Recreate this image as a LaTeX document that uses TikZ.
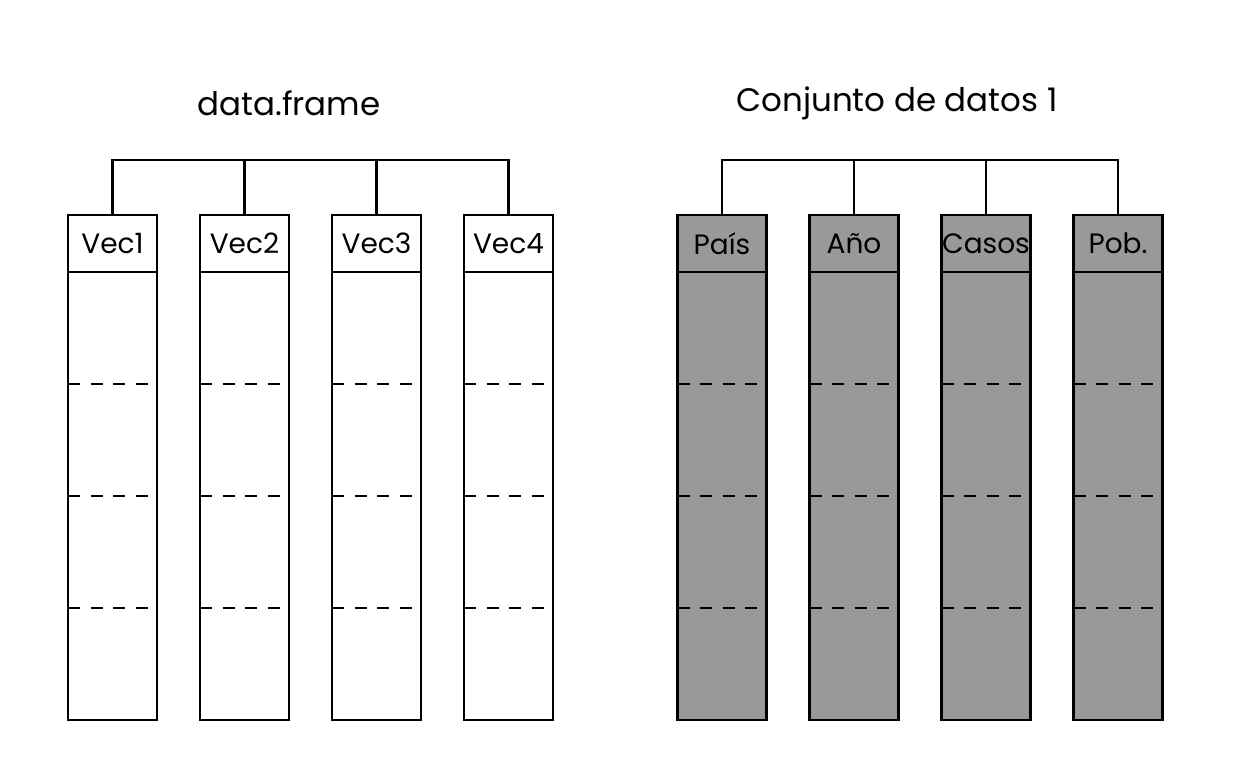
\documentclass[tikz,border=0pt]{standalone}
\usepackage{fontspec}
\setmainfont{Poppins}
\usetikzlibrary{calc}

\definecolor{colgray}{RGB}{153,153,153}

\tikzset{
  colhead/.style={draw, line width=2.8pt, minimum width=89pt, minimum height=57pt,
                  inner sep=0pt, outer sep=0pt, font=\fontsize{28}{28}\selectfont},
  colbody/.style={draw, line width=2.8pt, minimum width=89pt, minimum height=448pt,
                  inner sep=0pt, outer sep=0pt},
  rowsep/.style={line width=2.8pt, dash pattern=on 12pt off 10.5pt},
  bracket/.style={line width=2.8pt},
  grouptitle/.style={font=\fontsize{32.5}{32.5}\selectfont},
}

\begin{document}
\begin{tikzpicture}[x=1pt,y=-1pt]
  \useasboundingbox (0,0) rectangle (1248,768);

  % titles
  \node[grouptitle] (dftitle)  at (289,103) {data.frame};
  \node[grouptitle] (settitle) at (897,103) {Conjunto de datos 1};

  % columns
  \foreach \name/\x/\lab/\colfill in {a/112.5/Vec1/white,  b/244.5/Vec2/white,
                                      c/376.5/Vec3/white,  d/508.5/Vec4/white,
                                      e/722/País/colgray,  f/854/Año/colgray,
                                      g/986/Casos/colgray, h/1118/Pob./colgray}{
    \node[colhead, fill=\colfill] (\name head) at (\x,243.5) {\lab};
    \node[colbody, fill=\colfill, anchor=north] (\name body) at (\name head.south) {};
    \foreach \f in {0.25,0.5,0.75}
      \draw[rowsep] ($(\name body.north west)!\f!(\name body.south west)$)
                 -- ($(\name body.north east)!\f!(\name body.south east)$);
  }

  % brackets
  \coordinate (barline) at (0,160);
  \draw[bracket] (ahead.north) |- (barline -| dhead.north) -- (dhead.north);
  \draw[bracket] (bhead.north) -- (bhead.north |- barline);
  \draw[bracket] (chead.north) -- (chead.north |- barline);
  \draw[bracket] (ehead.north) |- (barline -| hhead.north) -- (hhead.north);
  \draw[bracket] (fhead.north) -- (fhead.north |- barline);
  \draw[bracket] (ghead.north) -- (ghead.north |- barline);

\end{tikzpicture}
\end{document}
